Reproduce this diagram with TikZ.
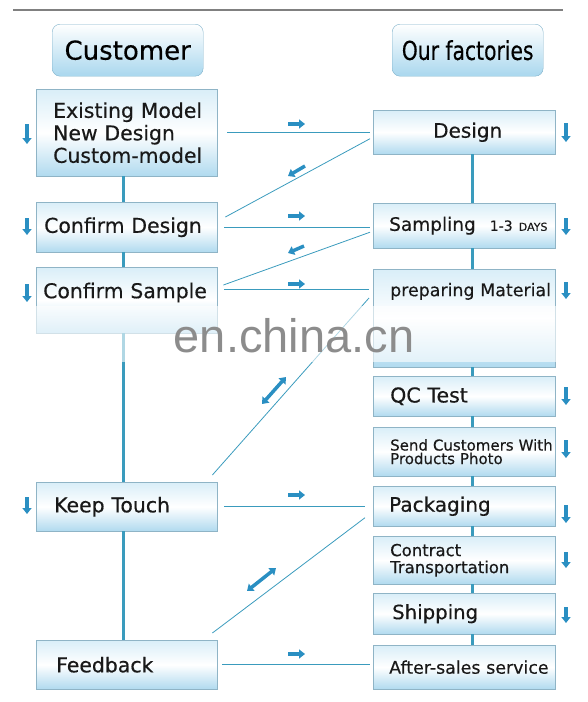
\documentclass[tikz,border=0pt]{standalone}
\usepackage{graphicx}
\usepackage{fontspec}
\setmainfont{DejaVu Sans}[FakeBold=0.4]
\newfontfamily\wmfont{Liberation Sans}
\usetikzlibrary{arrows.meta}

\definecolor{boxline}{HTML}{8FB4C6}
\definecolor{boxtop}{HTML}{D9EEF8}
\definecolor{boxbot}{HTML}{B0DAEF}
\definecolor{headline}{HTML}{7FB2CB}
\definecolor{headbot}{HTML}{A9D7EE}
\definecolor{linkblue}{HTML}{3A9BBD}
\definecolor{arrowblue}{HTML}{2A8FC2}
\definecolor{rulegray}{HTML}{808080}
\definecolor{wmgray}{HTML}{8C8C8C}

\tikzstyle{head} = [draw=headline,rounded corners=8pt,top color=white,bottom color=headbot,minimum width=151pt,minimum height=52pt,anchor=north west,inner sep=0pt]
\tikzstyle{box} = [draw=boxline,top color=boxtop,bottom color=boxbot,middle color=white,anchor=north west,inner sep=0pt,align=left,text=black!90]
\tikzstyle{lbox} = [box,minimum width=181pt,text width=181pt]
\tikzstyle{rbox} = [box,minimum width=182pt,text width=182pt]
\tikzstyle{trunk} = [draw=linkblue,line width=3pt]
\tikzstyle{link} = [draw=linkblue,line width=0.8pt]
\tikzstyle{fat} = [arrowblue,line width=3.5pt,-{Triangle[length=6pt,width=9pt]}]
\tikzstyle{fatboth} = [arrowblue,line width=3.5pt,{Triangle[length=6pt,width=9pt]}-{Triangle[length=6pt,width=9pt]}]
\tikzset{lpad/.style={execute at begin node={\leftskip=#1}}}

\begin{document}
\begin{tikzpicture}[x=1pt,y=-1pt]
  \useasboundingbox (0,0) rectangle (588,702);
  \draw[rulegray,line width=1.2pt] (13,10) -- (563,10);

  %headers
  \node[head,font=\fontsize{26}{30}\selectfont] (cust) at (52,24) {Customer};
  \node[head,font=\fontsize{26}{30}\selectfont] (fact) at (392,24) {\scalebox{0.78}[1]{Our factories}};

  %customer side
  \node[lbox,lpad=17pt,minimum height=87pt,font=\fontsize{20.4}{22.5}\selectfont] (exist) at (36,89) {Existing Model\\New Design\\Custom-model};
  \node[lbox,lpad=8pt,minimum height=50pt,font=\fontsize{20.4}{24}\selectfont] (cdesign) at (36,202) {Confirm Design};
  \node[lbox,lpad=7pt,text height=31pt,text depth=35pt,font=\fontsize{20.4}{24}\selectfont] (csample) at (36,267) {Confirm Sample};
  \node[lbox,lpad=18pt,minimum height=49pt,font=\fontsize{20.4}{24}\selectfont] (ktouch) at (36,482) {Keep Touch};
  \node[lbox,lpad=20pt,minimum height=49pt,font=\fontsize{20.4}{24}\selectfont] (feedback) at (36,640) {Feedback};

  %factory side
  \node[rbox,lpad=60pt,minimum height=44pt,font=\fontsize{20}{24}\selectfont] (design) at (373,110) {Design};
  \node[rbox,lpad=16pt,minimum height=45pt,font=\fontsize{18.5}{22}\selectfont] (sampling) at (373,203)
    {Sampling\hspace{14pt}{\fontsize{14}{14}\selectfont 1-3 {\fontsize{11}{11}\selectfont DAYS}}};
  \node[rbox,lpad=17pt,text height=27pt,text depth=71pt,font=\fontsize{17.4}{21}\selectfont] (pmat) at (373,269) {preparing Material};
  \node[rbox,lpad=17pt,minimum height=40pt,font=\fontsize{20.5}{24}\selectfont] (qc) at (373,376) {QC Test};
  \node[rbox,lpad=17pt,minimum height=49pt,font=\fontsize{15}{13.5}\selectfont] (send) at (373,427) {Send Customers With\\Products Photo};
  \node[rbox,lpad=16pt,minimum height=40pt,font=\fontsize{20}{24}\selectfont] (pack) at (373,486) {Packaging};
  \node[rbox,lpad=17pt,minimum height=48pt,font=\fontsize{16.5}{17}\selectfont] (contract) at (373,536) {Contract\\Transportation};
  \node[rbox,lpad=19pt,minimum height=41pt,font=\fontsize{19.7}{24}\selectfont] (ship) at (373,593) {Shipping};
  \node[rbox,lpad=16pt,minimum height=44pt,font=\fontsize{17.4}{21}\selectfont] (after) at (373,645) {After-sales service};

  %trunks
  \foreach \a/\b in {exist/cdesign, cdesign/csample, csample/ktouch, ktouch/feedback}
    \draw[trunk] ([xshift=-3.5pt]\a.south) -- ([xshift=-3.5pt]\b.north);
  \foreach \a/\b in {design/sampling, sampling/pmat, pmat/qc, qc/send, send/pack, pack/contract, contract/ship, ship/after}
    \draw[trunk] ([xshift=8pt]\a.south) -- ([xshift=8pt]\b.north);

  %links
  \draw[link,shorten <=10pt,shorten >=3pt] (exist.east) -- (exist.east -| design.west);
  \draw[link,shorten <=7pt,shorten >=3pt] (cdesign.east) -- (cdesign.east -| sampling.west);
  \draw[link,shorten <=7pt,shorten >=4pt] ([yshift=-22pt]csample.north east) -- ([yshift=-22pt]csample.north east -| pmat.west);
  \draw[link,shorten <=7pt,shorten >=8pt] (ktouch.east) -- (ktouch.east -| pack.west);
  \draw[link,shorten <=5pt,shorten >=3pt] (feedback.east) -- (feedback.east -| after.west);
  \draw[link] ([shift={(8pt,-15pt)}]cdesign.north east) -- ([shift={(-3pt,-6.5pt)}]design.west);
  \draw[link] ([shift={(6pt,-18pt)}]csample.north east) -- ([shift={(-3pt,-6.5pt)}]sampling.west);
  \draw[link] ([shift={(-5pt,7pt)}]ktouch.north east) -- ([shift={(-4pt,-29pt)}]pmat.north west);
  \draw[link] ([shift={(-5pt,7pt)}]feedback.north east) -- ([shift={(-8pt,-11.5pt)}]pack.west);

  %small arrows
  \foreach \y in {124,216,284,495,654}
    \draw[fat] (288,\y) -- (305,\y);
  \draw[fat] (305,166) -- (288,176);
  \draw[fat] (304,246) -- (288,253);
  \draw[fatboth] (262,404) -- (286,377);
  \draw[fatboth] (247,591) -- (276,568);
  \foreach \x/\ya/\yb in {27/124/144, 27/218/235, 27/284/302, 27/497/514,
    566/123/142, 566/218/235, 566/282/299, 566/387/405, 566/440/458, 566/505/523, 566/552/568, 566/607/623}
    \draw[fat] (\x,\ya) -- (\x,\yb);

  %watermark
  \fill[white,opacity=.6] (28,306) rectangle (562,362);
  \node[font=\wmfont\fontsize{47}{47}\selectfont,text=wmgray,anchor=base] (wm) at (294,352) {en.china.cn};
\end{tikzpicture}
\end{document}
